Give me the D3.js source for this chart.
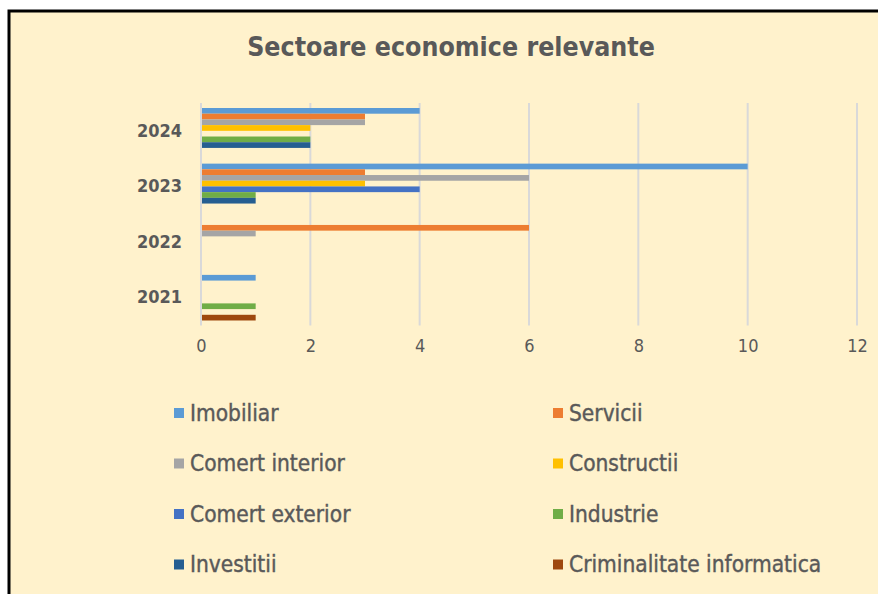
<!DOCTYPE html>
<html lang="en">
<head>
<meta charset="utf-8">
<title>Sectoare economice relevante</title>
<script src="https://cdn.jsdelivr.net/npm/d3@7"></script>
<style>
  html, body { margin: 0; padding: 0; background: #fff; }
  svg { display: block; }
  text { font-family: "DejaVu Sans Condensed", "DejaVu Sans", sans-serif; fill: #595959; }
</style>
</head>
<body>
<div id="chart"></div>
<script>
// years on the category axis, top to bottom
const years = ["2024", "2023", "2022", "2021"];
const sectors = ["Imobiliar", "Servicii", "Comert interior", "Constructii",
                 "Comert exterior", "Industrie", "Investitii", "Criminalitate informatica"];
const colors = ["#5b9bd5", "#ed7d31", "#a5a5a5", "#ffc000",
                "#4472c4", "#70ad47", "#255e91", "#9e480e"];

// values per sector, in the order of years above
const imobiliar      = [4, 10, 0, 1];
const servicii       = [3, 3, 6, 0];
const comertInterior = [3, 6, 1, 0];
const constructii    = [2, 3, 0, 0];
const comertExterior = [0, 4, 0, 0];
const industrie      = [2, 1, 0, 1];
const investitii     = [2, 1, 0, 0];
const criminalitate  = [0, 0, 0, 1];

const xTicks = [0, 2, 4, 6, 8, 10, 12];

const seriesValues = [imobiliar, servicii, comertInterior, constructii,
                      comertExterior, industrie, investitii, criminalitate];

const width = 878, height = 594;

const svg = d3.select("#chart").append("svg")
    .attr("width", width)
    .attr("height", height);

// chart area with thick frame on top and left
svg.append("rect")
    .attr("x", 9).attr("y", 11)
    .attr("width", width).attr("height", height)
    .attr("fill", "#fff2cc")
    .attr("stroke", "#000")
    .attr("stroke-width", 3);

svg.append("text")
    .attr("x", 451).attr("y", 56)
    .attr("text-anchor", "middle")
    .attr("font-size", 26.5)
    .attr("font-weight", "bold")
    .text("Sectoare economice relevante");

const xScale = d3.scaleLinear().domain([0, 12]).range([201, 857]);
const yScale = d3.scaleBand().domain(years).range([103, 325.5]).paddingInner(0.18).paddingOuter(0.09);
const ySub = d3.scaleBand().domain(sectors).range([0, yScale.bandwidth()]);

// gridlines
svg.append("g")
    .selectAll("line")
    .data(xTicks)
    .join("line")
    .attr("x1", d => xScale(d)).attr("x2", d => xScale(d))
    .attr("y1", 103).attr("y2", 325.5)
    .attr("stroke", "#d9d9d9")
    .attr("stroke-width", 2);

// bars
const groups = svg.append("g")
    .selectAll("g")
    .data(years)
    .join("g")
    .attr("transform", d => "translate(0," + yScale(d) + ")");

groups.selectAll("rect")
    .data((y, i) => sectors.map((s, k) => ({ sector: s, value: seriesValues[k][i], color: colors[k] })))
    .join("rect")
    .filter(d => d.value > 0)
    .attr("x", xScale(0) + 1)
    .attr("y", d => ySub(d.sector))
    .attr("width", d => xScale(d.value) - xScale(0) - 1)
    .attr("height", ySub.bandwidth())
    .attr("fill", d => d.color);

// x axis labels
const xAxis = d3.axisBottom(xScale).tickValues(xTicks).tickSize(0).tickPadding(0);
const gx = svg.append("g")
    .attr("transform", "translate(0,339)")
    .call(xAxis);
gx.select(".domain").remove();
gx.selectAll("text")
    .attr("font-size", 18)
    .attr("dy", "0.71em")
    .style("font-family", "DejaVu Sans Condensed, DejaVu Sans, sans-serif")
    .attr("fill", "#595959");

// y axis labels
const yAxis = d3.axisLeft(yScale).tickSize(0).tickPadding(19);
const gy = svg.append("g")
    .attr("transform", "translate(201,0)")
    .call(yAxis);
gy.select(".domain").remove();
gy.selectAll("text")
    .attr("font-size", 18)
    .attr("font-weight", "bold")
    .style("font-family", "DejaVu Sans Condensed, DejaVu Sans, sans-serif")
    .attr("fill", "#595959");

// legend, two columns
const legend = svg.append("g")
    .selectAll("g")
    .data(sectors)
    .join("g")
    .attr("transform", (d, i) => "translate(" + (i % 2 === 0 ? 174 : 553) + "," + (413 + Math.floor(i / 2) * 50.5) + ")");

legend.append("rect")
    .attr("x", 0).attr("y", -5)
    .attr("width", 10).attr("height", 10)
    .attr("fill", (d, i) => colors[i]);

legend.append("text")
    .attr("x", 16).attr("y", 0)
    .attr("dy", "0.35em")
    .attr("font-size", 22.5)
    .style("paint-order", "stroke")
    .attr("stroke", "#595959")
    .attr("stroke-width", 0.4)
    .text(d => d);
</script>
</body>
</html>
